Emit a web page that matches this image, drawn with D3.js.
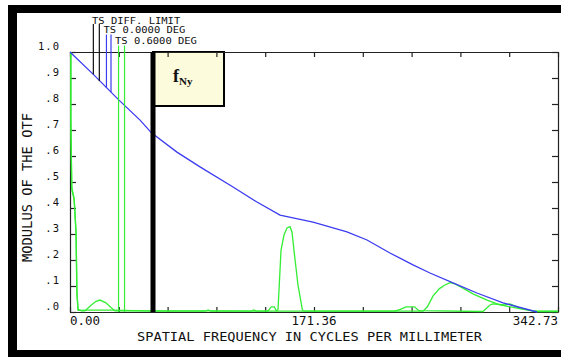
<!DOCTYPE html>
<html><head><meta charset="utf-8">
<script src="https://cdn.jsdelivr.net/npm/d3@7"></script>
<style>
html,body{margin:0;padding:0;background:#fff;}
svg{display:block;}
text{font-family:"DejaVu Sans Mono",monospace;fill:#111;}
</style></head>
<body>
<svg id="chart" width="561" height="357"></svg>
<script>
// ---- data ----
const xMax = 342.73;
const xTickValues = [0,1,2,3,4,5,6,7,8,9,10].map(i => i * xMax / 10);
const xLabels = ["0.00", "171.36", "342.73"];
const xLabelValues = [0, 171.36, 342.73];
const yTickValues = [0,0.1,0.2,0.3,0.4,0.5,0.6,0.7,0.8,0.9,1.0];
const yTickLabels = [".0",".1",".2",".3",".4",".5",".6",".7",".8",".9","1.0"];
const nyquist = 58.3;

// blue: TS 0.0000 DEG (diffraction limit coincides underneath)
const blueCurve = [[0,1.0],[16.2,0.915],[25.3,0.865],[34.4,0.815],[49.2,0.738],[57.4,0.688],[75.1,0.615],
  [91.3,0.558],[114.5,0.481],[131.3,0.423],[147.5,0.373],[170.7,0.346],[194.5,0.308],[208.6,0.277],
  [224.7,0.227],[240.9,0.181],[252.8,0.150],[269.0,0.112],[285.8,0.073],[304.1,0.035],[328,0.0]];

// green: TS 0.6000 DEG, tangential
const greenT = [[0.5,1.0],[0.5,0.75],[1.2,0.48],[2.8,0.44],[4.2,0.31],[4.8,0.08],[5.6,0.01],[8,0.004],
  [10.5,0.004],[14,0.022],[18,0.04],[21,0.046],[25,0.036],[29,0.016],[31.6,0.004],[60,0.004],[100,0.004],
  [144.7,0.003],[146.1,0.01],[148.2,0.238],[150.3,0.296],[152.4,0.323],[154.5,0.328],[155.9,0.308],
  [157.3,0.238],[160.1,0.104],[163.2,0.008],[164.6,0.003],[200,0.003],[248,0.003],[251,0.02],[255,0.062],
  [259.5,0.09],[263,0.103],[266.9,0.113],[270.4,0.108],[276,0.092],[283,0.07],[292.9,0.046],[302,0.027],
  [313.9,0.015],[325.2,0.003],[342.73,0.003]];

// green: TS 0.6000 DEG, sagittal
const greenS = [[0.6,1.0],[0.6,0.74],[1.3,0.47],[3.0,0.43],[4.3,0.30],[4.9,0.07],[5.7,0.006],[12,0.007],
  [30,0.007],[60,0.003],[95,0.003],[97,0.008],[99,0.003],[127,0.003],[129,0.008],[131,0.003],[139,0.003],
  [141.3,0.02],[143.5,0.02],[145,0.003],[228,0.003],[232,0.01],[236,0.02],[242,0.02],[245,0.005],
  [290,0.002],[295,0.027],[297,0.031],[305.5,0.027],[309,0.031],[316,0.015],[325,0.004],[328,0.002],
  [342.73,0.002]];

// legend entries and their leader lines [freq, value]
const legendLabels = ["TS DIFF. LIMIT", "TS 0.0000 DEG", "TS 0.6000 DEG"];
const legendColors = ["#111111", "#3c3cf0", "#33ee33"];
const leaderFreqs = [[16.4, 20.6], [25.6, 28.8], [34.1, 38.3]];
const leaderValues = [[0.914, 0.888], [0.863, 0.846], [0.0, 0.0]];

// ---- drawing ----
const svg = d3.select("#chart");
const x = d3.scaleLinear().domain([0, xMax]).range([70, 558]);
const y = d3.scaleLinear().domain([0, 1]).range([312, 52]);

// black frame
svg.append("rect").attr("x",8).attr("y",5).attr("width",553).attr("height",8).attr("fill","#000");
svg.append("rect").attr("x",8).attr("y",5).attr("width",9).attr("height",352).attr("fill","#000");
svg.append("rect").attr("x",8).attr("y",350).attr("width",553).attr("height",7).attr("fill","#000");

// Nyquist box
svg.append("rect").attr("x", x(nyquist)).attr("y", y(1)).attr("width", 71).attr("height", 54)
  .attr("fill", "#fcfbdc").attr("stroke", "#000").attr("stroke-width", 2);
const ft = svg.append("text").attr("x", x(nyquist) + 20).attr("y", y(1) + 30)
  .style("font-family", "'Liberation Serif',serif").style("font-weight", "bold");
ft.append("tspan").style("font-size", "18px").text("f");
ft.append("tspan").style("font-size", "11px").attr("dy", 3).text("Ny");

const line = d3.line().x(d => x(d[0])).y(d => y(d[1]));

// axes
function styleAxis(g){
  g.selectAll("path.domain").attr("stroke","#222").attr("stroke-width",1.2);
  g.selectAll("line").attr("stroke","#222").attr("stroke-width",1.2);
}
svg.append("g").attr("transform","translate(0,312)")
  .call(d3.axisBottom(x).tickValues(xTickValues).tickSizeInner(-5).tickSizeOuter(0).tickFormat(""))
  .call(styleAxis);
svg.append("g").attr("transform","translate(0,52)")
  .call(d3.axisTop(x).tickValues(xTickValues).tickSizeInner(-5).tickSizeOuter(0).tickFormat(""))
  .call(styleAxis);
svg.append("g").attr("transform","translate(558,0)")
  .call(d3.axisRight(y).tickValues(yTickValues).tickSizeInner(-6).tickSizeOuter(0).tickFormat(""))
  .call(styleAxis);
const yAx = svg.append("g").attr("transform","translate(70,0)")
  .call(d3.axisLeft(y).tickValues(yTickValues).tickSizeInner(-6).tickSizeOuter(0).tickPadding(10)
    .tickFormat((d,i) => yTickLabels[i]))
  .call(styleAxis);
yAx.selectAll("text").attr("dy", "-0.2em").style("font-size","10.5px").style("letter-spacing","1px")
  .style("font-family","'DejaVu Sans Mono',monospace").attr("fill","#111");

// curves
svg.append("path").datum(greenS).attr("d", line).attr("fill","none")
  .attr("stroke","#33ee33").attr("stroke-width",1.3);
svg.append("path").datum(greenT).attr("d", line).attr("fill","none")
  .attr("stroke","#33ee33").attr("stroke-width",1.3);
svg.append("path").datum(blueCurve).attr("d", line).attr("fill","none")
  .attr("stroke","#3c3cf0").attr("stroke-width",1.3);

// Nyquist line
svg.append("line").attr("x1", x(nyquist)).attr("x2", x(nyquist)).attr("y1", y(1)).attr("y2", y(0))
  .attr("stroke","#000").attr("stroke-width",5);

// x labels
svg.selectAll("text.xl").data(xLabels).enter().append("text").attr("class","xl")
  .attr("x", (d,i) => x(xLabelValues[i])).attr("y", 325)
  .attr("text-anchor", (d,i) => i === 0 ? "start" : (i === 1 ? "middle" : "end"))
  .style("font-size","12.5px").text(d => d);

// titles
svg.append("text").attr("x", 309.5).attr("y", 341).attr("text-anchor","middle")
  .attr("textLength", 345).attr("lengthAdjust","spacingAndGlyphs")
  .style("font-size","13px").text("SPATIAL FREQUENCY IN CYCLES PER MILLIMETER");
svg.append("text").attr("transform","translate(32,187.5) rotate(-90)").attr("text-anchor","middle")
  .attr("textLength", 149).attr("lengthAdjust","spacingAndGlyphs")
  .style("font-size","13.5px").text("MODULUS OF THE OTF");

// legend
const legBase = [23.5, 33, 43.5];
const legX = [92, 103.5, 115];
const legTop = [24, 34.5, 45.5];
legendLabels.forEach((lab, i) => {
  svg.append("text").attr("x", legX[i]).attr("y", legBase[i])
    .attr("textLength", lab.length * 6.3).attr("lengthAdjust","spacingAndGlyphs")
    .style("font-size","9.5px").text(lab);
  leaderFreqs[i].forEach((f, j) => {
    svg.append("line").attr("x1", x(f)).attr("x2", x(f)).attr("y1", legTop[i]).attr("y2", y(leaderValues[i][j]))
      .attr("stroke", legendColors[i]).attr("stroke-width", 1.2);
  });
});
</script>
</body></html>
